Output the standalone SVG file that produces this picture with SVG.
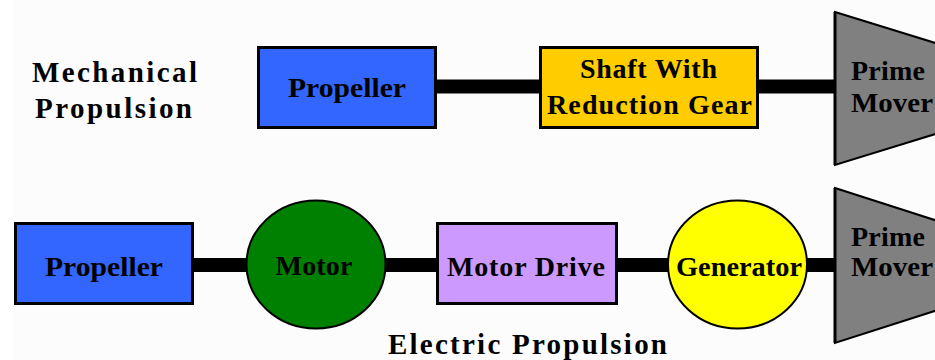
<svg xmlns="http://www.w3.org/2000/svg" width="935" height="360" viewBox="0 0 935 360">
<style>
  text { font-family: "Liberation Serif", "Times New Roman", serif; font-weight: bold; fill: #000; }
  .lbl { font-size: 28px; text-anchor: middle; }
  .title { font-size: 29px; }
  .box { stroke: #000; stroke-width: 3; }
  .ell { stroke: #000; stroke-width: 2; }
  .pm { fill: #808080; stroke: #000; stroke-width: 2; }
  .shaft { stroke: #000; stroke-width: 14; fill: none; }
</style>
<rect x="0" y="0" width="935" height="360" fill="#FCFCFC"/>
<rect x="0" y="0" width="13" height="360" fill="#FFFFFF"/>

<g id="connectors">
  <line class="shaft" x1="436" y1="86.5" x2="540" y2="86.5"/>
  <line class="shaft" x1="758" y1="86.5" x2="835" y2="86.5"/>
  <line class="shaft" x1="193" y1="265" x2="247" y2="265"/>
  <line class="shaft" x1="385" y1="265" x2="437" y2="265"/>
  <line class="shaft" x1="617" y1="265" x2="669" y2="265"/>
  <line class="shaft" x1="806" y1="265" x2="835" y2="265"/>
</g>

<g id="label-mechanical">
  <text class="title" x="32" y="82" textLength="165" lengthAdjust="spacing">Mechanical</text>
  <text class="title" x="35" y="118" textLength="157" lengthAdjust="spacing">Propulsion</text>
</g>

<g id="propeller-mech">
  <rect class="box" x="258.5" y="47.5" width="177" height="80" fill="#3366FF"/>
  <text class="lbl" x="347" y="97" textLength="118" lengthAdjust="spacingAndGlyphs">Propeller</text>
</g>

<g id="shaft-gear">
  <rect class="box" x="540.5" y="47.5" width="217" height="80" fill="#FFCC00"/>
  <text class="lbl" x="648.5" y="78" textLength="137" lengthAdjust="spacing">Shaft With</text>
  <text class="lbl" x="649.5" y="114" textLength="205" lengthAdjust="spacing">Reduction Gear</text>
</g>

<g id="prime-mover-mech">
  <polygon class="pm" points="835,12 1000,63 1000,114 835,165"/>
  <line x1="835" y1="12" x2="835" y2="165" stroke="#000" stroke-width="3"/>
  <text x="851" y="80" font-size="28" textLength="74" lengthAdjust="spacing">Prime</text>
  <text x="851" y="112" font-size="28" textLength="82" lengthAdjust="spacingAndGlyphs">Mover</text>
</g>

<g id="propeller-elec">
  <rect class="box" x="15.5" y="223.5" width="177" height="80" fill="#3366FF"/>
  <text class="lbl" x="104" y="276" textLength="118" lengthAdjust="spacingAndGlyphs">Propeller</text>
</g>

<g id="motor">
  <ellipse class="ell" cx="316" cy="264.5" rx="69.5" ry="64" fill="#008000"/>
  <text class="lbl" x="314" y="275" textLength="77" lengthAdjust="spacing">Motor</text>
</g>

<g id="motor-drive">
  <rect class="box" x="437.5" y="223.5" width="179" height="80" fill="#CC99FF"/>
  <text class="lbl" x="526" y="276" textLength="158" lengthAdjust="spacing">Motor Drive</text>
</g>

<g id="generator">
  <ellipse class="ell" cx="737.5" cy="264.5" rx="69.5" ry="64" fill="#FFFF00"/>
  <text class="lbl" x="739" y="276" textLength="126" lengthAdjust="spacingAndGlyphs">Generator</text>
</g>

<g id="prime-mover-elec">
  <polygon class="pm" points="835,188 1000,241 1000,290 835,343"/>
  <line x1="835" y1="188" x2="835" y2="343" stroke="#000" stroke-width="3"/>
  <text x="851" y="246" font-size="28" textLength="74" lengthAdjust="spacing">Prime</text>
  <text x="851" y="276" font-size="28" textLength="82" lengthAdjust="spacingAndGlyphs">Mover</text>
</g>

<g id="label-electric">
  <text class="title" x="388" y="354" font-size="30" textLength="279" lengthAdjust="spacing">Electric Propulsion</text>
</g>
</svg>
